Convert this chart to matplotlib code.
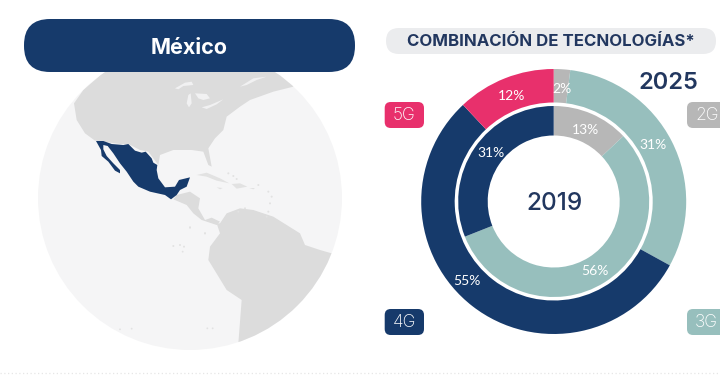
import matplotlib
matplotlib.use("Agg")
import matplotlib.pyplot as plt
from matplotlib.patches import Circle, FancyBboxPatch, Polygon

# ---------- data ----------
technologies = ["2G", "3G", "4G", "5G"]
share_2025 = [2, 31, 55, 12]
share_2019 = [13, 56, 31, 0]
year_outer = "2025"
year_inner = "2019"
title_country = "México"
title_mix = "COMBINACIÓN DE TECNOLOGÍAS*"

NAVY = "#163A6B"
TEAL = "#97BFBD"
PINK = "#E8306C"
GREY = "#B7B7B7"
INK = "#22375F"
colors = {"2G": GREY, "3G": TEAL, "4G": NAVY, "5G": PINK}

H = 376
fig = plt.figure(figsize=(7.2, 3.76), dpi=100)
ax = fig.add_axes([0, 0, 1, 1])


def Y(y):
    return H - y


def pts(coords, ox=0, oy=0, scale=3):
    return [(ox + x / scale, Y(oy + y / scale)) for x, y in coords]


# ---------- globe ----------
GLOBE = Circle((190, Y(198)), 152, fc="#F5F5F6", ec="none", zorder=1)
ax.add_patch(GLOBE)
LAND = "#DCDCDC"
PALE = "#E2E2E2"


def shape(coords, color, z=2, ox=0, oy=0):
    p = Polygon(pts(coords, ox, oy), closed=True, fc=color, ec="none", zorder=z)
    ax.add_patch(p)
    p.set_clip_path(GLOBE)


north_america = [(130, -30), (130, 8), (70, 60), (42, 100), (50, 150), (75, 190), (105, 212), (180, 222),
                 (205, 222), (240, 240), (265, 245), (295, 285), (300, 255), (340, 240), (395, 240),
                 (430, 245), (445, 285), (455, 290), (445, 235), (465, 205), (490, 180), (500, 140),
                 (540, 110), (570, 90), (640, 65), (700, 50), (720, 0), (700, -30)]
shape(north_america, LAND, ox=60, oy=70)

lakes = [
    [(345, 55), (375, 38), (395, 35), (400, 45), (370, 48), (355, 58)],
    [(385, 75), (392, 70), (395, 100), (387, 112), (380, 100)],
    [(405, 70), (440, 72), (450, 85), (430, 90), (415, 85)],
    [(425, 112), (450, 105), (490, 88), (470, 103), (440, 117)],
    [(540, 50), (580, 25), (620, 20), (590, 30), (560, 45)],
]
for lake in lakes:
    shape(lake, "#F1F1F2", z=3, ox=60, oy=70)

central_america = [(20, 75), (60, 65), (90, 85), (85, 115), (105, 150), (125, 143), (150, 155), (140, 165),
                   (110, 155), (95, 150), (70, 130), (50, 105), (10, 88)]
shape(central_america, LAND, ox=170, oy=170)

south_america = [(600, 100), (620, 70), (660, 55), (700, 60), (760, 80), (840, 130), (855, 165), (900, 180),
                 (935, 190), (1050, 190), (1050, 520), (650, 520), (655, 460), (665, 330), (620, 300),
                 (565, 210), (570, 170), (600, 130), (590, 100)]
shape(south_america, LAND, ox=20, oy=190)

islands = [
    [(80, 15), (110, 8), (150, 25), (178, 40), (140, 32), (110, 20)],
    [(185, 42), (210, 40), (232, 50), (200, 56)],
    [(140, 52), (158, 54), (150, 58)],
    [(238, 54), (255, 54), (250, 58)],
]
for isle in islands:
    shape(isle, PALE, ox=170, oy=170)

islet_dots = [(175, 10), (190, 18), (200, 27), (265, 45), (295, 65), (305, 80), (300, 100), (295, 125), (290, 140),
              (205, 125), (225, 115), (60, 172), (105, 190), (10, 228), (30, 225), (42, 230)]
for dx, dy in islet_dots:
    x, y = pts([(dx, dy)], 170, 170)[0]
    ax.add_patch(Circle((x, y), 1.0, fc=PALE, ec="none", zorder=3))
pacific_dots = [(510, 113), (555, 130), (488, 185), (300, 418), (335, 416), (562, 415), (578, 415)]
for dx, dy in pacific_dots:
    x, y = pts([(dx, dy)], 20, 190)[0]
    ax.add_patch(Circle((x, y), 0.9, fc=PALE, ec="none", zorder=3))

mexico = [(33, 33), (55, 33), (80, 42), (115, 45), (130, 42), (150, 62), (170, 68), (182, 65), (200, 85),
          (205, 98), (217, 105), (215, 120), (220, 145), (240, 172), (270, 170), (282, 150), (315, 142),
          (305, 170), (285, 180), (275, 195), (258, 208), (240, 195), (195, 185), (160, 170), (145, 155),
          (125, 125), (105, 100), (85, 70), (68, 48), (55, 45), (55, 58), (65, 78), (85, 100), (105, 120),
          (105, 130), (90, 122), (70, 95), (50, 78), (48, 60)]
shape(mexico, NAVY, z=4, ox=85, oy=130)

# ---------- header pills ----------


def pill(x0, y0, x1, y1, color, rad, z=5):
    ax.add_patch(FancyBboxPatch((x0 + rad, Y(y1) + rad), x1 - x0 - 2 * rad, y1 - y0 - 2 * rad,
                                boxstyle=f"round,pad={rad},rounding_size={rad}",
                                fc=color, ec="none", zorder=z))


pill(24, 19, 355, 72, NAVY, 26)
ax.text(189, Y(47.5), title_country, color="white", fontsize=15.5, fontweight="bold", family="Inter",
        ha="center", va="center", zorder=6)
pill(386, 28, 716, 54, "#EBECEE", 13)
ax.text(551, Y(41.5), title_mix, color=INK, fontsize=12.1, fontweight="bold", family="Inter",
        ha="center", va="center", zorder=6)

# ---------- donuts ----------
CX, CY = 553.7, Y(201.5)
ax.pie(share_2025, colors=[colors[t] for t in technologies], center=(CX, CY), radius=132.5, startangle=90,
       counterclock=False, wedgeprops=dict(width=33.5, linewidth=0), frame=True)
ax.pie(share_2019[:3], colors=[colors[t] for t in technologies[:3]], center=(CX, CY), radius=95.5, startangle=90,
       counterclock=False, wedgeprops=dict(width=29.5, linewidth=0), frame=True)

outer_label_xy = [(562, 89), (653, 145), (467, 281), (512, 96)]
inner_label_xy = [(585, 130), (595, 271), (491, 153)]
for v, (x, y) in zip(share_2025, outer_label_xy):
    ax.text(x, Y(y), f"{v}%", color="white", fontsize=10, family="Lato", ha="center", va="center", zorder=6)
for v, (x, y) in zip(share_2019, inner_label_xy):
    ax.text(x, Y(y), f"{v}%", color="white", fontsize=10, family="Lato", ha="center", va="center", zorder=6)

ax.text(668, Y(83), year_outer, color=INK, fontsize=17, fontweight="semibold", family="Inter",
        ha="center", va="center", zorder=6)
ax.text(555, Y(203), year_inner, color=INK, fontsize=17.5, fontweight="medium", family="Inter",
        ha="center", va="center", zorder=6)

# ---------- legend chips ----------
chip_boxes = {"5G": (384.7, 102), "2G": (687, 102), "4G": (384.7, 309), "3G": (687, 309)}
for tech, (x, y) in chip_boxes.items():
    pill(x, y, x + 39.3, y + 26, colors[tech], 6)
    ax.text(x + 19.7, Y(y + 13.3), tech, color="white", fontsize=12.5, fontweight="light", family="Inter",
            ha="center", va="center", zorder=6)

# ---------- dotted footer rule ----------
ax.plot([0, 720], [Y(372.7), Y(372.7)], color="#E6E6E6", lw=0.9, ls=(0, (1, 2)), zorder=1)

ax.set_xlim(0, 720)
ax.set_ylim(0, H)
ax.set_aspect("auto")
ax.axis("off")
fig.savefig("out.png", dpi=100, facecolor="white")
